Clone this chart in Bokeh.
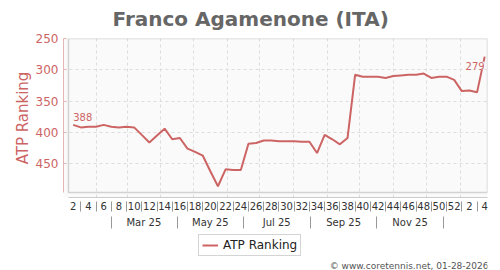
from datetime import date
from bokeh.plotting import figure
from bokeh.layouts import column
from bokeh.models import (Range1d, FixedTicker, LinearAxis, BoxAnnotation, Legend,
                          LegendItem, Label, CustomJSTickFormatter, ColumnDataSource)
from bokeh.embed import file_html
from bokeh.resources import INLINE
from bokeh.core.properties import value

# ---- data -------------------------------------------------------------
years = [2025] * 51 + [2026] * 4
weeks = [2, 3, 4, 5, 6, 7, 8, 9, 10, 11, 12, 13, 14, 15, 16, 17, 18, 19, 20, 21,
         22, 23, 24, 25, 26, 27, 28, 29, 30, 31, 32, 33, 34, 35, 36, 37, 38, 39, 40, 41,
         42, 43, 44, 45, 46, 47, 48, 49, 50, 51, 52, 1, 2, 3, 4]
ranking = [388, 392, 391, 391, 388, 391, 392, 391, 392, 404, 416, 405, 394, 411, 409,
           426, 431, 437, 462, 486, 459, 460, 460, 418, 417, 413, 413, 414, 414, 414,
           415, 415, 433, 404, 411, 419, 409, 308, 311, 311, 311, 313, 310, 309, 308,
           308, 306, 313, 311, 311, 316, 334, 333, 336, 279]
y_ticks = [250, 300, 350, 400, 450]
month_labels = ["Mar 25", "May 25", "Jul 25", "Sep 25", "Nov 25"]

FONT = "DejaVu Sans"
RED = "#cd6464"

x = [(y - 2025) * 52 + w for y, w in zip(years, weeks)]
src = ColumnDataSource(dict(x=x, y=ranking))


def date_x(d):
    return (d - date(2024, 12, 30)).days / 7 + 0.35


month_starts = [date(2025, m, 1) for m in range(2, 13)] + [date(2026, 1, 1)]
grid_pos = [date_x(d) for d in month_starts]
mid = {}
for m in range(1, 13):
    a = date_x(date(2025, m, 1))
    b = date_x(date(2025 + (m == 12), 1 if m == 12 else m + 1, 1))
    mid[m] = (a + b) / 2
sep_pos = [mid[m] for m in (2, 4, 6, 8, 10, 12)]
lab_pos = [mid[m] for m in (3, 5, 7, 9, 11)]

p = figure(frame_width=424, frame_height=159,
           x_range=Range1d(0.73, 56.37), y_range=Range1d(504, 250),
           min_border_left=63, min_border_right=13, min_border_top=36, min_border_bottom=35,
           toolbar_location=None, output_backend="svg", x_axis_location=None)
p.background_fill_color = "#fafafa"
p.border_fill_color = "white"
p.outline_line_color = None

# title
p.title.text = "Franco Agamenone (ITA)"
p.title.align = "left"
p.title.offset = 49
p.title.vertical_align = "top"
p.title.standoff = 12
p.title.text_font = FONT
p.title.text_font_size = "20px"
p.title.text_font_style = "bold"
p.title.text_color = "#666666"

# grids
p.ygrid.ticker = FixedTicker(ticks=y_ticks)
p.ygrid.grid_line_color = "#dddddd"
p.ygrid.grid_line_dash = "3 3"
p.xgrid.ticker = FixedTicker(ticks=grid_pos)
p.xgrid.grid_line_color = "#dddddd"
p.xgrid.grid_line_dash = "3 3"

# y axis
ya = p.yaxis[0]
ya.ticker = FixedTicker(ticks=y_ticks)
ya.bounds = (250, 496)
ya.axis_label = "ATP Ranking"
ya.axis_label_text_font = FONT
ya.axis_label_text_font_size = "15px"
ya.axis_label_text_font_style = "normal"
ya.axis_label_text_color = RED
ya.axis_label_standoff = 1
ya.major_label_text_font = FONT
ya.major_label_text_font_size = "12px"
ya.major_label_text_color = RED
ya.major_label_standoff = 5
ya.axis_line_color = "#e3b5b5"
ya.major_tick_line_color = "#e3b5b5"
ya.major_tick_in = 3
ya.major_tick_out = 0
ya.minor_tick_line_color = None

# x axis row 1: week numbers
even_idx = [xi for xi, w in zip(x, weeks) if w % 2 == 0]
odd_idx = [xi for xi, w in zip(x, weeks) if w % 2 == 1 and xi > x[0] and xi < x[-1]]
xa1 = LinearAxis(ticker=FixedTicker(ticks=even_idx, minor_ticks=odd_idx))
xa1.major_label_overrides = {xi: str(w) for xi, w in zip(x, weeks) if w % 2 == 0}
xa1.bounds = (1.38, 56.37)
xa1.axis_line_color = "#cccccc"
xa1.major_tick_line_color = None
xa1.minor_tick_line_color = "#999999"
xa1.minor_tick_in = -4
xa1.minor_tick_out = 14
xa1.major_label_standoff = -10
xa1.major_label_text_font = FONT
xa1.major_label_text_font_size = "10px"
xa1.major_label_text_color = "#333333"
p.add_layout(xa1, "below")

# x axis row 2: months
xa2 = LinearAxis(ticker=FixedTicker(ticks=lab_pos, minor_ticks=sep_pos))
xa2.formatter = CustomJSTickFormatter(args=dict(pos=lab_pos, lab=month_labels), code="""
    for (let i = 0; i < pos.length; i++) { if (Math.abs(pos[i] - tick) < 1e-6) return lab[i]; }
    return '';
""")
xa2.axis_line_color = None
xa2.major_tick_line_color = None
xa2.minor_tick_line_color = "#999999"
xa2.minor_tick_in = -4
xa2.minor_tick_out = 16
xa2.major_label_standoff = -12
xa2.major_label_text_font = FONT
xa2.major_label_text_font_size = "10px"
xa2.major_label_text_color = "#333333"
p.add_layout(xa2, "below")

# inner frame
p.add_layout(BoxAnnotation(left=1.38, bottom=496, fill_color=None,
                           line_color="#777777", line_width=1.5))

line = p.line("x", "y", source=src, line_color=RED, line_width=2)

# point labels
p.text(x=[x[0]], y=[ranking[0]], text=[str(ranking[0])], text_font=value(FONT),
       text_font_size="10px", text_color=RED, text_align="left", text_baseline="bottom",
       y_offset=-4)
p.text(x=[x[-1]], y=[ranking[-1]], text=[str(ranking[-1])], text_font=value(FONT),
       text_font_size="10px", text_color=RED, text_align="right", text_baseline="top",
       y_offset=5, background_fill_color="#fafafa")

# ---- footer strip: legend + credit (frame aligned with the chart's frame) ----
p2 = figure(width=500, height=40, title=None, toolbar_location=None, output_backend="svg",
            x_axis_location=None, y_axis_location=None, min_border=0)
p2.outline_line_color = None
p2.background_fill_color = "white"
p2.border_fill_color = "white"
p2.xgrid.visible = False
p2.ygrid.visible = False
leg_line = p2.line("x", "y", source=src, line_color=RED, line_width=2, visible=False)

legend = Legend(items=[LegendItem(label="ATP Ranking", renderers=[leg_line])],
                location=(135, 16), orientation="horizontal",
                border_line_color="#aaaaaa", background_fill_color="white",
                background_fill_alpha=1, label_text_font=FONT, label_text_font_size="12px",
                label_text_color="#222222", glyph_width=16, glyph_height=12,
                label_height=12, padding=3, margin=0, label_standoff=5)
p2.add_layout(legend, "center")

p2.add_layout(Label(x=425, y=7, x_units="screen", y_units="screen",
                    text="\u00a9 www.coretennis.net, 01-28-2026", text_align="right",
                    text_baseline="middle", text_font=FONT, text_font_size="9px",
                    text_color="#555555"))

open("out.html", "w").write(file_html(column(p, p2, spacing=0), INLINE))
